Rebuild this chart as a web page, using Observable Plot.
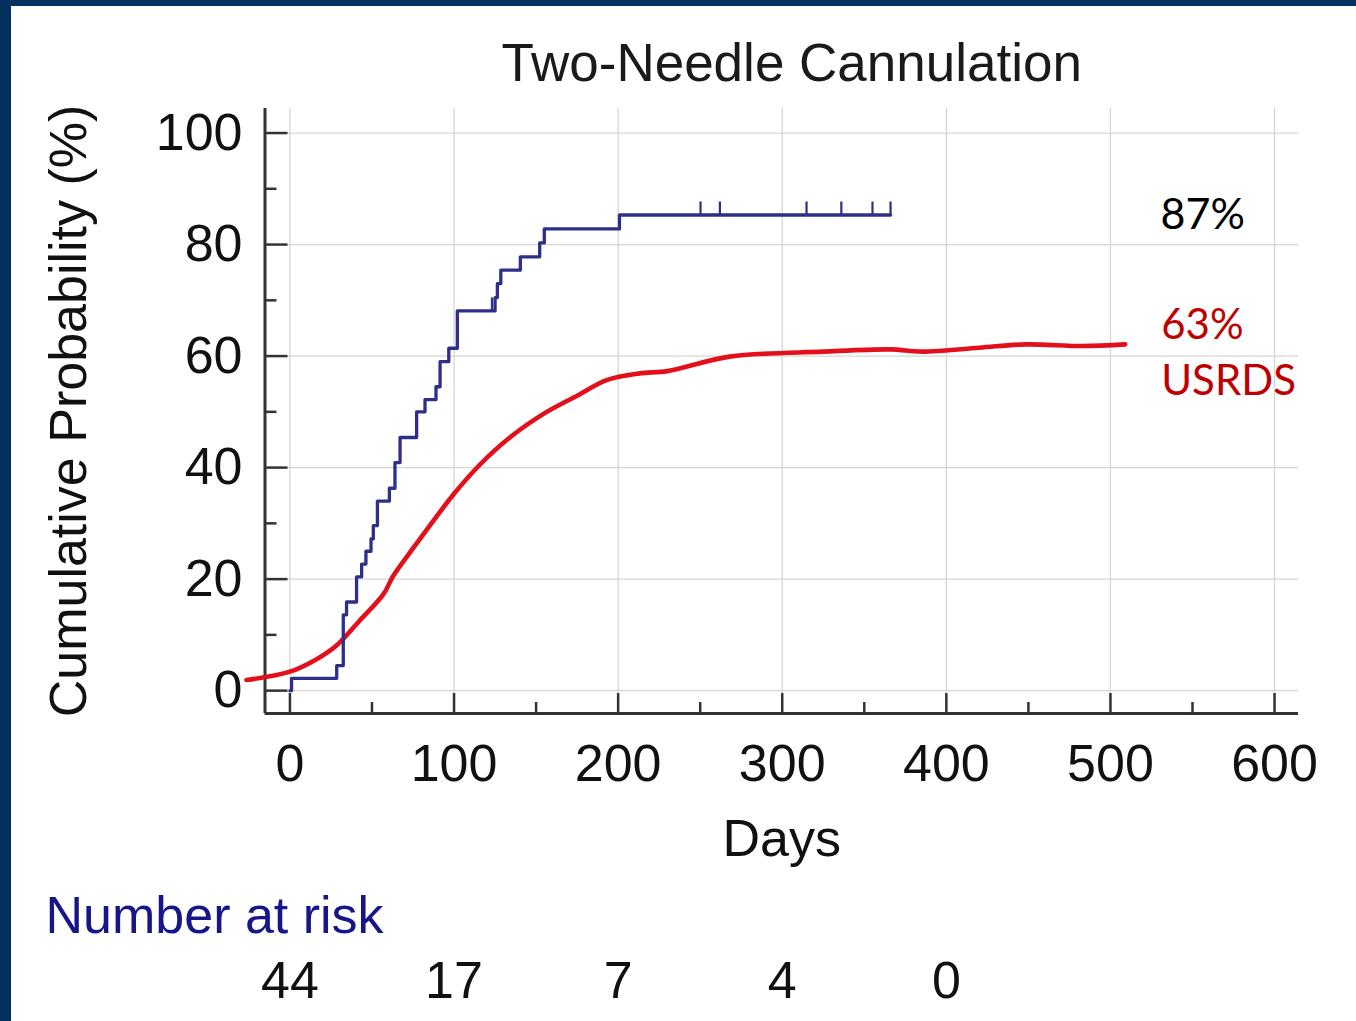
<!DOCTYPE html>
<html>
<head>
<meta charset="utf-8">
<script src="https://cdn.jsdelivr.net/npm/d3@7"></script>
<script src="https://cdn.jsdelivr.net/npm/@observablehq/plot@0.6"></script>
<style>
  html, body { margin: 0; padding: 0; background: #ffffff; }
  #wrap { position: relative; width: 1356px; height: 1021px; overflow: hidden; background: #fff; }
  #wrap svg { position: absolute; left: 0; top: 0; }
  .bar-top { position: absolute; left: 0; top: 0; width: 1356px; height: 6px; background: #03305f; }
  .bar-left { position: absolute; left: 0; top: 0; width: 11px; height: 1021px; background: #03305f; }
</style>
</head>
<body>
<div id="wrap"></div>
<script>
// ---- Data ----
const titleText = "Two-Needle Cannulation";
const xLabel = "Days";
const yLabel = "Cumulative Probability (%)";

// Kaplan-Meier cumulative probability (blue step curve)
const kmDays = [0, 1, 28.5, 32.5, 34.5, 40.6, 43.7, 46.3, 49.4, 50.8, 53.3, 60.6, 64, 67.1, 77.2, 82.3, 89, 91.5, 96.8, 102, 125, 126.4, 128.5, 140.4, 152.2, 155, 200.8, 366];
const kmPct  = [0, 2.2, 4.5, 13.6, 15.9, 20.4, 22.7, 25.0, 27.2, 29.6, 34.0, 36.3, 40.9, 45.4, 50.0, 52.2, 54.5, 59.0, 61.4, 68.1, 70.5, 73.0, 75.4, 77.8, 80.3, 82.8, 85.3, 85.3];
// censored observations (tick marks on the curve)
const censorDays = [123.1, 250.2, 262, 314.8, 336, 355, 366];

// USRDS reference curve (red)
const usrdsDays = [-26.5, 0, 16, 28, 42, 57, 63, 77, 100, 116, 134, 156, 175, 193, 213, 230, 268, 325, 366, 385, 420, 448, 483, 509];
const usrdsPct  = [1.9, 3.4, 5.6, 8.0, 12.4, 17.3, 20.6, 26.3, 35.3, 40.6, 45.4, 49.9, 52.9, 55.7, 56.9, 57.3, 59.9, 60.8, 61.2, 60.8, 61.5, 62.1, 61.8, 62.1];

// Number at risk
const riskDays = [0, 100, 200, 300, 400];
const riskCounts = [44, 17, 7, 4, 0];
const riskTitle = "Number at risk";

// Annotations
const kmLabel = "87%";
const usrdsLabel = "63%\nUSRDS";

// Axis ticks
const xMajor = [0, 100, 200, 300, 400, 500, 600];
const xMinor = [50, 150, 250, 350, 450, 550];
const yMajor = [0, 20, 40, 60, 80, 100];
const yMinor = [10, 30, 50, 70, 90];

const xDomain = [-15.2, 614.6];
const yDomain = [-4.1, 104.4];

// ---- Build tables ----
const km = kmDays.map((d, i) => ({day: d, p: kmPct[i]}));
const levelAt = (t) => { let v = 0; for (const r of km) { if (r.day <= t) v = r.p; } return v; };
const censors = censorDays.map(d => ({day: d, p: levelAt(d)}));
const usrds = usrdsDays.map((d, i) => ({day: d, p: usrdsPct[i]}));
const risk = riskDays.map((d, i) => ({day: d, n: String(riskCounts[i])}));
const kmEnd = km[km.length - 1];
const usEnd = usrds[usrds.length - 1];

const axisColor = "#333333";
const font = "'Liberation Sans', Arial, sans-serif";

const chart = Plot.plot({
  width: 1356,
  height: 1021,
  marginLeft: 264.5,
  marginRight: 58,
  marginTop: 108,
  marginBottom: 308,
  x: {domain: xDomain},
  y: {domain: yDomain},
  style: {fontFamily: font, fontSize: "52px", color: "#111", background: "transparent", overflow: "visible"},
  marks: [
    Plot.gridX({ticks: xMajor, stroke: "#d6d6d6", strokeOpacity: 1, strokeWidth: 1.3}),
    Plot.gridY({ticks: yMajor, stroke: "#d6d6d6", strokeOpacity: 1, strokeWidth: 1.3}),
    // axis lines
    Plot.ruleX([xDomain[0]], {stroke: axisColor, strokeWidth: 3}),
    Plot.ruleY([yDomain[0]], {stroke: axisColor, strokeWidth: 3}),
    // inward ticks
    Plot.axisX({ticks: xMajor, tickSize: -20, text: null, label: null, stroke: axisColor, strokeWidth: 2.5}),
    Plot.axisX({ticks: xMinor, tickSize: -11, text: null, label: null, stroke: axisColor, strokeWidth: 2.5}),
    Plot.axisY({ticks: yMajor, tickSize: -23, text: null, label: null, stroke: axisColor, strokeWidth: 2.5}),
    Plot.axisY({ticks: yMinor, tickSize: -12, text: null, label: null, stroke: axisColor, strokeWidth: 2.5}),
    // tick labels and axis titles
    Plot.axisX({ticks: xMajor, tickSize: 0, tickPadding: 31, tickFormat: d => String(d),
      label: xLabel, labelAnchor: "center", labelOffset: 142, labelArrow: "none", fontSize: 52, fill: "#111"}),
    Plot.axisY({ticks: yMajor, tickSize: 0, tickPadding: 22.5, tickFormat: d => String(d),
      label: yLabel, labelAnchor: "center", labelOffset: 216, labelArrow: "none", fontSize: 52, fill: "#111"}),
    // USRDS curve
    Plot.line(usrds, {x: "day", y: "p", curve: "catmull-rom", stroke: "#e3101c", strokeWidth: 4.6, strokeLinecap: "round", strokeLinejoin: "round"}),
    // KM step curve
    Plot.line(km, {x: "day", y: "p", curve: "step-after", stroke: "#2e2f88", strokeWidth: 3.3}),
    Plot.ruleX(censors, {x: "day", y1: "p", y2: "p", insetTop: -13, stroke: "#2e2f88", strokeWidth: 2.2}),
    // annotations
    Plot.text([kmEnd], {x: "day", y: "p", text: () => kmLabel, textAnchor: "start", lineAnchor: "middle", dx: 270, dy: 0,
      fontFamily: "Lato, 'Open Sans', sans-serif", fontSize: 43, fill: "#000"}),
    Plot.text([usEnd], {x: "day", y: "p", text: () => usrdsLabel, textAnchor: "start", lineAnchor: "middle", dx: 36, dy: 5,
      lineHeight: 1.33, fontFamily: "Lato, 'Open Sans', sans-serif", fontSize: 42, fill: "#c00000"}),
    // title
    Plot.text([titleText], {text: d => d, frameAnchor: "top", lineAnchor: "bottom", dx: 10, dy: -28, fontSize: 53, fill: "#1a1a1a"}),
    // number at risk
    Plot.text([riskTitle], {text: d => d, frameAnchor: "bottom-left", textAnchor: "start", lineAnchor: "bottom", dx: -219.5, dy: 219, fontSize: 52, fill: "#16168a"}),
    Plot.text(risk, {x: "day", text: "n", frameAnchor: "bottom", lineAnchor: "bottom", dy: 284, fontSize: 52, fill: "#111"})
  ]
});

const wrap = document.getElementById("wrap");
wrap.appendChild(chart);
const t = document.createElement("div"); t.className = "bar-top"; wrap.appendChild(t);
const l = document.createElement("div"); l.className = "bar-left"; wrap.appendChild(l);
</script>
</body>
</html>
